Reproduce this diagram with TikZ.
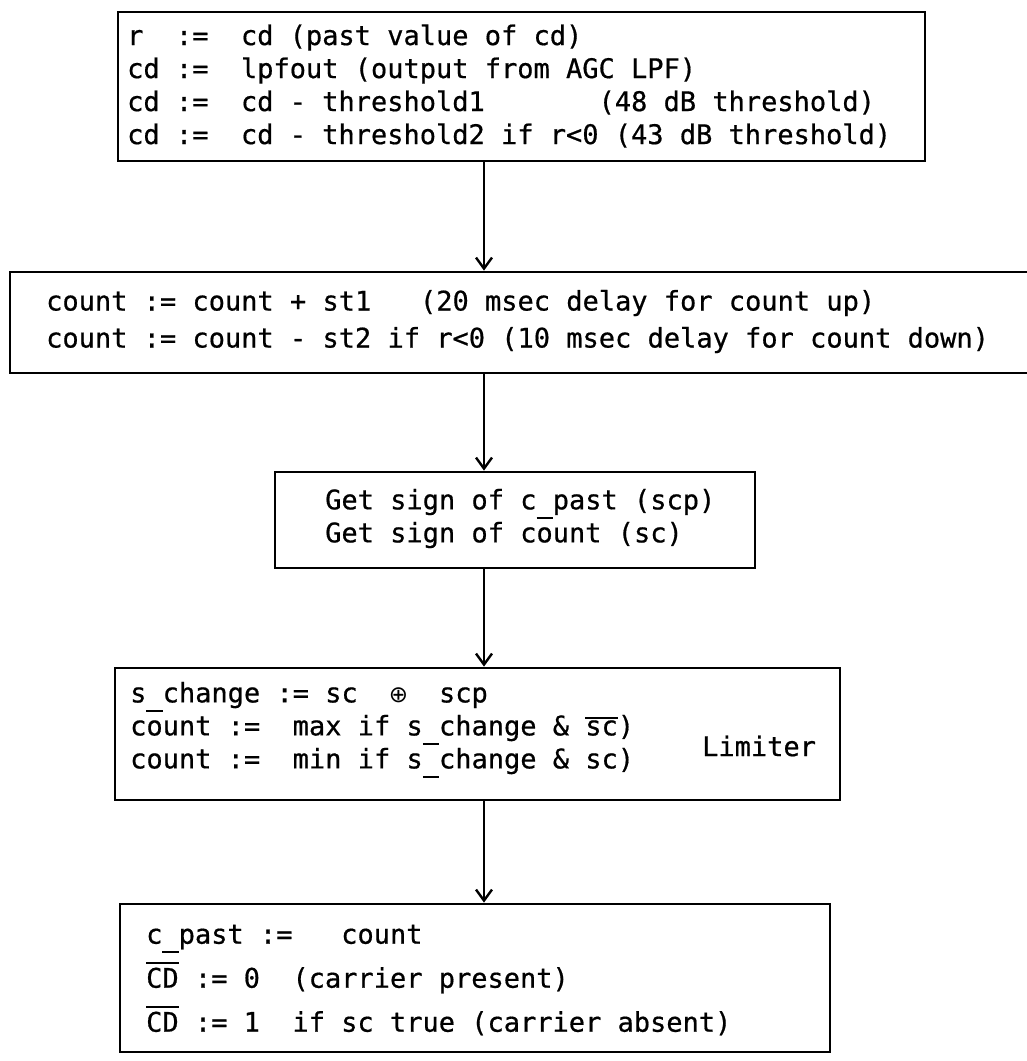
\documentclass[tikz,border=0pt]{standalone}
\usepackage{fontspec}
\setmainfont[FakeBold=0.6]{DejaVu Sans Mono}
\newfontfamily\symfont{DejaVu Sans}
\usetikzlibrary{arrows.meta}
\newlength\cw
\newsavebox\ovbox
\newcommand\us{\makebox[\cw][c]{\rule[-0.36em]{\cw}{0.08em}}}
\newcommand\ovl[2]{\sbox\ovbox{#1}\rlap{\rule[#2]{\wd\ovbox}{0.08em}}\usebox\ovbox}
\newcommand\oplusc{\makebox[\cw][c]{\symfont\fontsize{23}{23}\selectfont ⊕}}
\newcommand\tfont[1]{\fontsize{27}{#1}\selectfont\settowidth\cw{0}}
\tikzset{
  box/.style={draw, line width=2.8pt, inner sep=0pt},
  txt/.style={anchor=west, align=left, inner sep=0pt},
  arr/.style={line width=2.5pt, -{Straight Barb[length=11pt,width=16pt,line width=2.4pt]}},
}
\begin{document}
\begin{tikzpicture}[x=1pt,y=-1pt]
\useasboundingbox[fill=white] (0,0) rectangle (1027,1061);
% boxes
\node[box, minimum width=807pt, minimum height=149pt] (b1) at (521.5,86.5) {};
\node[box, minimum width=1020pt, minimum height=101pt] (b2) at (520,322.5) {};
\node[box, minimum width=480pt, minimum height=96pt] (b3) at (515,520) {};
\node[box, minimum width=725pt, minimum height=132pt] (b4) at (477.5,734) {};
\node[box, minimum width=710pt, minimum height=148pt] (b5) at (475,978) {};
% texts
\node[txt, font=\tfont{33}] (t1) at (127,86) {%
r\ \ :=\ \ cd (past value of cd)\\
cd :=\ \ lpfout (output from AGC LPF)\\
cd :=\ \ cd - threshold1\ \ \ \ \ \ \ (48 dB threshold)\\
cd :=\ \ cd - threshold2 if r<0 (43 dB threshold)};
\node[txt, font=\tfont{37}] (t2) at (46,321.5) {%
count := count + st1\ \ \ (20 msec delay for count up)\\
count := count - st2 if r<0 (10 msec delay for count down)};
\node[txt, font=\tfont{33}] (t3) at (325,518.5) {%
Get sign of c\us past (scp)\\
Get sign of count (sc)};
\node[txt, font=\tfont{33}] (t4) at (130,730) {%
s\us change := sc\ \ \oplusc\ \ scp\\
count :=\ \ max if s\us change \& \ovl{sc}{0.6em})\\
count :=\ \ min if s\us change \& sc)};
\node[txt, font=\tfont{33}] (lim) at (702,746) {Limiter};
\node[txt, font=\tfont{44}] (t5) at (146,980) {%
c\us past :=\ \ \ count\\
\ovl{CD}{0.86em} := 0\ \ (carrier present)\\
\ovl{CD}{0.86em} := 1\ \ if sc true (carrier absent)};
% connectors
\coordinate (ax) at (484,0);
\draw[arr] (b1.south -| ax) -- (b2.north -| ax);
\draw[arr] (b2.south -| ax) -- (b3.north -| ax);
\draw[arr] (b3.south -| ax) -- (b4.north -| ax);
\draw[arr] (b4.south -| ax) -- (b5.north -| ax);
\end{tikzpicture}
\end{document}
